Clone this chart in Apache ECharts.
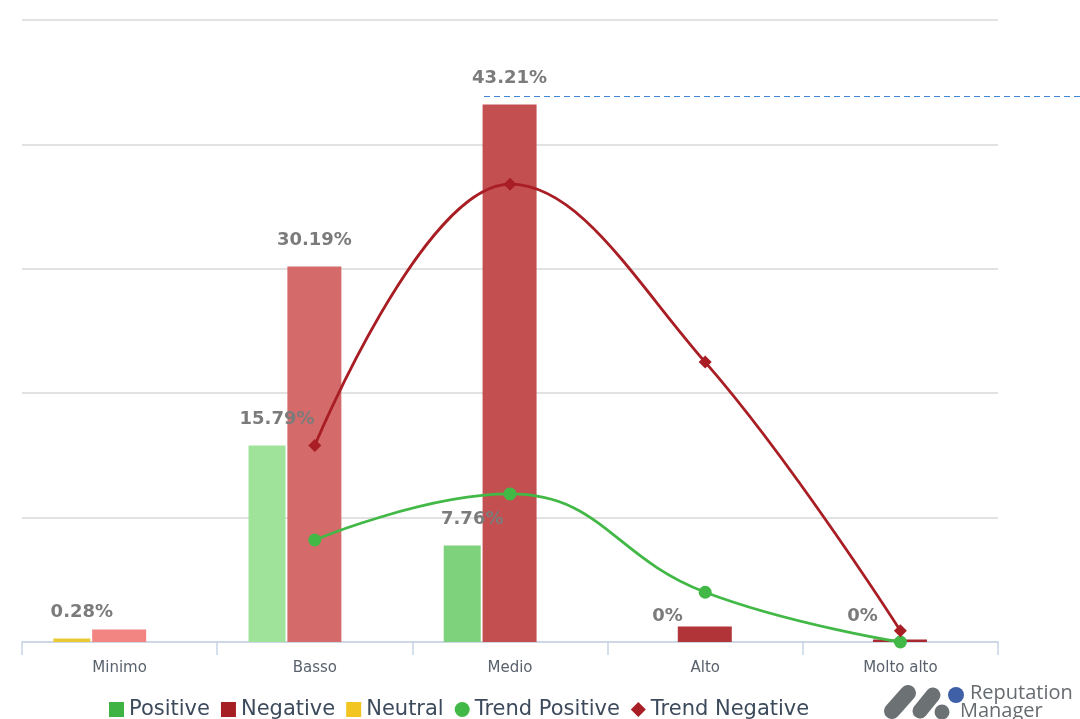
<!DOCTYPE html>
<html>
<head>
<meta charset="utf-8">
<script src="https://cdn.jsdelivr.net/npm/echarts@6/dist/echarts.min.js"></script>
<style>
  html, body { margin: 0; padding: 0; background: #ffffff; }
  #chart { width: 1080px; height: 719px; }
</style>
</head>
<body>
<div id="chart"></div>
<script>
// Sentiment distribution by risk level (percent)
const categories = ['Minimo', 'Basso', 'Medio', 'Alto', 'Molto alto'];
const positive = [0, 15.79, 7.76, 0, 0];
const negative = [1.0, 30.19, 43.21, 1.24, 0.2];
const neutral = [0.28, null, null, null, null];
const trendPositive = [null, 8.2, 11.9, 4.0, 0];
const trendNegative = [null, 15.8, 36.8, 22.5, 0.9];
const yTicks = [0, 10, 20, 30, 40, 50];
// negative bars that carry a value label
const labeledNegative = ['Basso', 'Medio'];

// per-category shades
const positiveShades = ['#9fe39a', '#9fe39a', '#7ed27b', '#5fbf5f', '#4cb04c'];
const negativeShades = ['#f28482', '#d46a6a', '#c44f51', '#b03438', '#a82a2e'];
const neutralShade = '#ebc934';

const FONT = 'DejaVu Sans';
const valueLabel = {
  show: true,
  position: 'top',
  distance: 17,
  fontFamily: FONT,
  fontSize: 18,
  fontWeight: 'bold',
  color: '#7b7b7b',
  formatter: p => p.value + '%'
};

const chart = echarts.init(document.getElementById('chart'), null, { renderer: 'canvas' });

const option = {
  backgroundColor: '#ffffff',
  animation: false,
  grid: { left: 22, right: 82, top: 20, bottom: 77, outerBoundsMode: 'none' },
  legend: {
    left: 104,
    top: 694,
    itemWidth: 15,
    itemHeight: 15,
    itemGap: 11,
    textStyle: { fontFamily: FONT, fontSize: 21, color: '#3c4a5c' },
    data: [
      { name: 'Positive', icon: 'rect' },
      { name: 'Negative', icon: 'rect' },
      { name: 'Neutral', icon: 'rect' },
      { name: 'Trend Positive', icon: 'circle' },
      { name: 'Trend Negative', icon: 'diamond' }
    ]
  },
  xAxis: {
    type: 'category',
    data: categories,
    boundaryGap: true,
    axisLine: { lineStyle: { color: '#c6d3e6', width: 1.5 } },
    axisTick: { show: true, length: 13, lineStyle: { color: '#c6d3e6', width: 1.5 } },
    axisLabel: { fontFamily: FONT, fontSize: 15, color: '#5a626d', margin: 19 }
  },
  yAxis: {
    type: 'value',
    min: yTicks[0],
    max: yTicks[yTicks.length - 1],
    interval: yTicks[1] - yTicks[0],
    axisLabel: { show: false },
    axisLine: { show: false },
    axisTick: { show: false },
    splitLine: { lineStyle: { color: '#e2e2e2', width: 2 } }
  },
  series: [
    {
      name: 'Positive',
      type: 'bar',
      stack: 'posNeutral',
      barWidth: 37,
      barGap: '5%',
      itemStyle: { color: '#3fb344' },
      data: positive.map((v, i) => ({
        value: v,
        itemStyle: { color: positiveShades[i] },
        label: Object.assign({}, valueLabel, { show: !(neutral[i] > 0), offset: [10, 0] })
      }))
    },
    {
      name: 'Neutral',
      type: 'bar',
      stack: 'posNeutral',
      barWidth: 37,
      itemStyle: { color: '#f2c521' },
      data: neutral.map(v => ({
        value: v,
        itemStyle: { color: neutralShade },
        label: Object.assign({}, valueLabel, { show: v > 0, offset: [10, 0] })
      }))
    },
    {
      name: 'Negative',
      type: 'bar',
      barWidth: 54,
      itemStyle: { color: '#a61f22' },
      data: negative.map((v, i) => ({
        value: v,
        itemStyle: { color: negativeShades[i] },
        label: Object.assign({}, valueLabel, { show: labeledNegative.includes(categories[i]) })
      }))
    },
    {
      // empty column that keeps the negative bars centred on each category
      name: 'slot',
      type: 'bar',
      barWidth: 37,
      silent: true,
      data: categories.map(() => null)
    },
    {
      name: 'Trend Positive',
      type: 'line',
      smooth: 0.45,
      symbol: 'circle',
      symbolSize: 13,
      z: 5,
      itemStyle: { color: '#42b846' },
      lineStyle: { color: '#42b846', width: 2.8 },
      data: trendPositive
    },
    {
      name: 'Trend Negative',
      type: 'line',
      smooth: 0.4,
      symbol: 'diamond',
      symbolSize: 13,
      z: 5,
      itemStyle: { color: '#a81e24' },
      lineStyle: { color: '#a81e24', width: 2.8 },
      data: trendNegative
    }
  ]
};

chart.setOption(option);

// dashed guide level above the highest negative bar, running out to the right edge
const maxIdx = negative.indexOf(Math.max(...negative));
const peak = chart.convertToPixel({ xAxisIndex: 0, yAxisIndex: 0 }, [categories[maxIdx], negative[maxIdx]]);
const guideY = Math.round(peak[1] - 8) + 0.5;
const logoGray = '#6c7174';
chart.setOption({
  graphic: [
    {
      id: 'peakGuide',
      type: 'line',
      shape: { x1: peak[0] - 26, y1: guideY, x2: 1080, y2: guideY },
      style: { stroke: '#3f87d6', lineWidth: 1, lineDash: [6, 4] },
      silent: true
    },
    {
      id: 'logo',
      type: 'group',
      left: 884,
      top: 683,
      children: [
        { type: 'line', shape: { x1: 10, y1: 27, x2: 26, y2: 9 }, style: { stroke: logoGray, lineWidth: 16, lineCap: 'round' } },
        { type: 'line', shape: { x1: 38, y1: 27, x2: 51, y2: 11 }, style: { stroke: logoGray, lineWidth: 15, lineCap: 'round' } },
        { type: 'circle', shape: { cx: 60, cy: 28, r: 7.5 }, style: { fill: logoGray } },
        { type: 'circle', shape: { cx: 74, cy: 11, r: 8 }, style: { fill: '#3f5fa7' } },
        { type: 'text', x: 88, y: -1, style: { text: 'Reputation', fontFamily: 'Open Sans', fontSize: 20, fill: '#666b70' } },
        { type: 'text', x: 78, y: 17, style: { text: 'Manager', fontFamily: 'Open Sans', fontSize: 20, fill: '#666b70' } }
      ]
    }
  ]
});
</script>
</body>
</html>
